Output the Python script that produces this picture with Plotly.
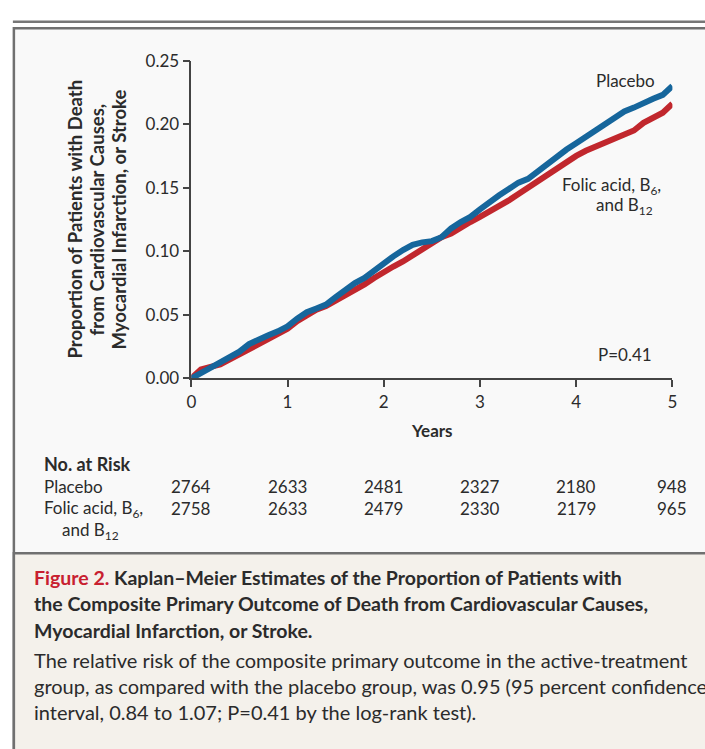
import plotly.graph_objects as go

# ---------------- data ----------------
years = [0.0, 0.1, 0.2, 0.3, 0.4, 0.5, 0.6, 0.7, 0.8, 0.9,
         1.0, 1.1, 1.2, 1.3, 1.4, 1.5, 1.6, 1.7, 1.8, 1.9,
         2.0, 2.1, 2.2, 2.3, 2.4, 2.5, 2.6, 2.7, 2.8, 2.9,
         3.0, 3.1, 3.2, 3.3, 3.4, 3.5, 3.6, 3.7, 3.8, 3.9,
         4.0, 4.1, 4.2, 4.3, 4.4, 4.5, 4.6, 4.7, 4.8, 4.9, 5.0]
placebo = [0.000, 0.004, 0.008, 0.012, 0.017, 0.021, 0.027, 0.031, 0.034, 0.037,
           0.041, 0.047, 0.052, 0.055, 0.058, 0.064, 0.070, 0.075, 0.079, 0.085,
           0.091, 0.096, 0.101, 0.105, 0.107, 0.108, 0.111, 0.118, 0.123, 0.127,
           0.133, 0.139, 0.144, 0.149, 0.154, 0.157, 0.163, 0.169, 0.175, 0.180,
           0.185, 0.190, 0.196, 0.201, 0.206, 0.210, 0.213, 0.217, 0.220, 0.223, 0.230]
folic = [0.000, 0.007, 0.009, 0.011, 0.015, 0.019, 0.024, 0.028, 0.032, 0.035,
         0.039, 0.045, 0.050, 0.054, 0.057, 0.061, 0.066, 0.070, 0.074, 0.079,
         0.084, 0.088, 0.092, 0.097, 0.102, 0.107, 0.111, 0.114, 0.119, 0.123,
         0.127, 0.131, 0.135, 0.140, 0.145, 0.150, 0.155, 0.161, 0.166, 0.170,
         0.175, 0.179, 0.182, 0.185, 0.188, 0.191, 0.195, 0.201, 0.205, 0.209, 0.216]

risk_years = [0, 1, 2, 3, 4, 5]
risk_placebo = [2764, 2633, 2481, 2327, 2180, 948]
risk_folic = [2758, 2633, 2479, 2330, 2179, 965]

y_ticks = [0.00, 0.05, 0.10, 0.15, 0.20, 0.25]
x_ticks = [0, 1, 2, 3, 4, 5]

y_title_lines = ["Proportion of Patients with Death",
                 "from Cardiovascular Causes,",
                 "Myocardial Infarction, or Stroke"]
cap_title = [
    "<span style='color:#c8202f'>Figure 2.</span> Kaplan\u2013Meier Estimates of the Proportion of Patients with",
    "the Composite Primary Outcome of Death from Cardiovascular Causes,",
    "Myocardial Infarction, or Stroke.",
]
cap_body = [
    "The relative risk of the composite primary outcome in the active-treatment",
    "group, as compared with the placebo group, was 0.95 (95 percent confidence",
    "interval, 0.84 to 1.07; P=0.41 by the log-rank test).",
]

# ---------------- style ----------------
W, H = 705, 749
FONT = "Lato"
TXT = "#2b2b2b"
BLUE = "#16669c"
RED = "#c1272d"
PANEL_BG = "#f9f9f9"
CAP_BG = "#f4f1eb"
BORDER = "#707070"


def px(x):
    return x / W


def py(y):
    return 1 - y / H


fig = go.Figure()
fig.add_trace(go.Scatter(x=years, y=folic, mode="lines",
                         line=dict(color=RED, width=6), showlegend=False,
                         hoverinfo="skip"))
fig.add_trace(go.Scatter(x=years, y=placebo, mode="lines",
                         line=dict(color=BLUE, width=6), showlegend=False,
                         hoverinfo="skip"))

shapes = [
    dict(type="line", xref="paper", yref="paper", x0=px(8), x1=px(720),
         y0=py(11), y1=py(11), line=dict(color="#777777", width=2.5),
         layer="below"),
    dict(type="rect", xref="paper", yref="paper", x0=px(9), x1=px(730),
         y0=py(17.7), y1=py(780), fillcolor=PANEL_BG,
         line=dict(color=BORDER, width=2.5), layer="below"),
    dict(type="rect", xref="paper", yref="paper", x0=px(9), x1=px(730),
         y0=py(558), y1=py(780), fillcolor=CAP_BG,
         line=dict(color=BORDER, width=2.5), layer="below"),
]

ann = []


def txt(x, y, t, size=17, xanchor="left", ref="paper", angle=0):
    ann.append(dict(xref=ref, yref="paper", x=x, y=py(y), text=t,
                    showarrow=False, xanchor=xanchor, yanchor="middle",
                    textangle=angle,
                    font=dict(family=FONT, size=size, color=TXT)))


# y axis title, one annotation per line
for i, line in enumerate(y_title_lines):
    txt(px(71.5 + 22.3 * i), 214, "<b>" + line + "</b>", size=18.5,
        xanchor="center", angle=-90)
# x axis title
txt(px(433), 432, "<b>Years</b>", size=17, xanchor="center")
# curve labels
txt(px(661), 72, "Placebo", xanchor="right")
txt(px(667), 180, "Folic acid, B<sub>6</sub>,", xanchor="right")
txt(px(659), 201, "and B<sub>12</sub>", xanchor="right")
txt(px(658), 353, "P=0.41", xanchor="right")

# number at risk table
txt(px(38), 466, "<b>No. at Risk</b>", size=18)
txt(px(38), 489, "Placebo")
txt(px(38), 512, "Folic acid, B<sub>6</sub>,")
txt(px(56), 535, "and B<sub>12</sub>")
for yr, a, b in zip(risk_years, risk_placebo, risk_folic):
    txt(yr, 489, str(a), xanchor="center", ref="x")
    txt(yr, 512, str(b), xanchor="center", ref="x")

# caption
for i, t in enumerate(cap_title):
    txt(px(27), 583 + 27 * i, "<b>" + t + "</b>", size=19.5)
for i, t in enumerate(cap_body):
    txt(px(27), 668 + 26.5 * i, t, size=20)

axis_common = dict(showgrid=False, zeroline=False, showline=True,
                   linecolor="#444444", linewidth=1.5, ticks="outside",
                   ticklen=7, tickwidth=1.5, tickcolor="#444444",
                   tickfont=dict(family=FONT, size=17, color=TXT),
                   fixedrange=True)

fig.update_layout(
    width=W, height=H,
    margin=dict(l=0, r=0, t=0, b=0),
    paper_bgcolor="white",
    plot_bgcolor="rgba(0,0,0,0)",
    shapes=shapes,
    annotations=ann,
    xaxis=dict(domain=[px(189), px(677)], range=[0, 5], tickvals=x_ticks,
               ticktext=[str(v) for v in x_ticks], **axis_common),
    yaxis=dict(domain=[py(378), py(51)], range=[0, 0.25], tickvals=y_ticks,
               tickformat=".2f", **axis_common),
)

fig.write_html("out.html", config={"displayModeBar": False},
               post_script="document.body.style.margin='0';document.body.style.overflow='hidden';")
